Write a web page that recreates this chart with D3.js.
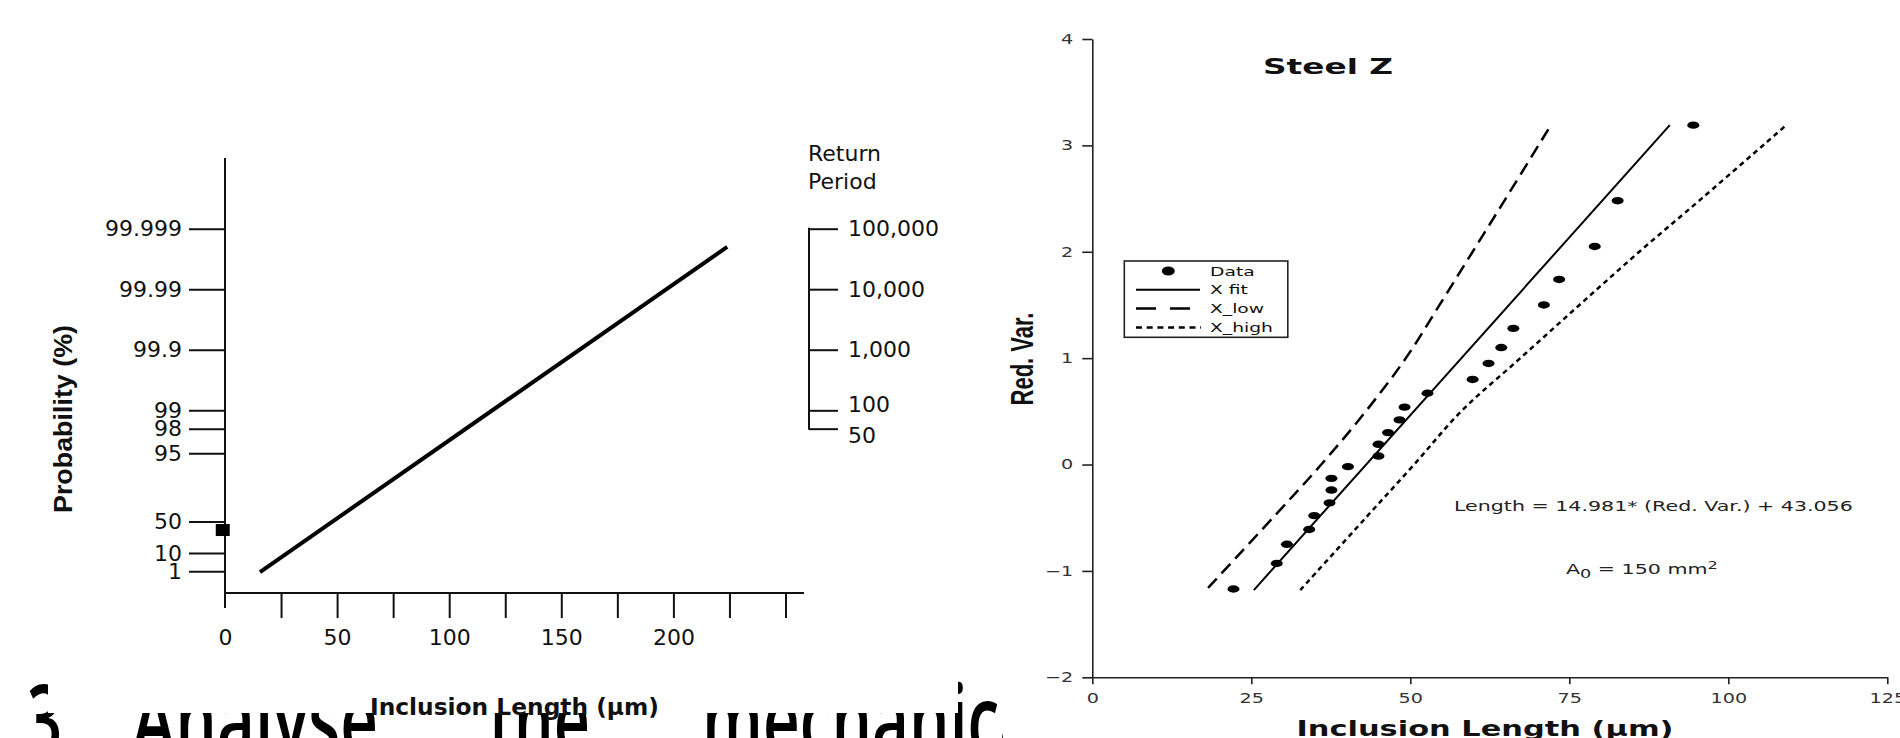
<!DOCTYPE html>
<html>
<head>
<meta charset="utf-8">
<script src="https://cdn.jsdelivr.net/npm/d3@7"></script>
<style>
  html, body { margin: 0; padding: 0; background: #fff; overflow: hidden; }
  svg { display: block; }
</style>
</head>
<body>
<script>
// ---------- left panel: Gumbel probability paper ----------
const probTicks = [99.999, 99.99, 99.9, 99, 98, 95, 50, 10, 1];
const probLabels = ['99.999', '99.99', '99.9', '99', '98', '95', '50', '10', '1'];
const returnPeriods = [100000, 10000, 1000, 100, 50];
const returnLabels = ['100,000', '10,000', '1,000', '100', '50'];
const lengthTicksLeft = [25, 50, 75, 100, 125, 150, 175, 200, 225, 250];
const lengthLabelsLeft = [0, 50, 100, 150, 200];
// [inclusion length (µm), probability (%)]
const extremeLine = [[15.6, 0.88], [224, 99.998]];
const squareMarker = [[-1, 38.4]];

// ---------- right panel: Steel Z ----------
const dataLength = [22.2, 29.0, 30.6, 34.1, 34.9, 37.3, 37.6, 37.6, 40.2, 45.0, 45.0, 46.5,
                    48.3, 49.1, 52.7, 59.8, 62.3, 64.3, 66.2, 71.0, 73.4, 79.0, 82.6, 94.5];
const dataRedVar = [-1.17, -0.93, -0.75, -0.61, -0.48, -0.36, -0.24, -0.13, -0.02, 0.08, 0.19, 0.30,
                    0.42, 0.54, 0.67, 0.80, 0.95, 1.10, 1.28, 1.50, 1.74, 2.05, 2.48, 3.19];
// [length, reduced variate]
const fitLine = [[25.4, -1.18], [90.8, 3.19]];
const lowLine = [[18.2, -1.16], [28.4, -0.5], [36.0, 0], [43.0, 0.5], [49.3, 1.0], [54.6, 1.5],
                 [59.8, 2.0], [65.0, 2.5], [72.2, 3.2]];
const highLine = [[32.7, -1.18], [43.0, -0.5], [50.6, 0], [58.0, 0.5], [67.3, 1.0], [76.6, 1.5],
                  [86.0, 2.0], [95.8, 2.5], [109.3, 3.2]];
const redVarTicks = [-2, -1, 0, 1, 2, 3, 4];
const lengthTicksRight = [0, 25, 50, 75, 100, 125];
const legendLabels = ['Data', 'X fit', 'X_low', 'X_high'];

const width = 1900;
const height = 738;
const gumbel = p => -Math.log(-Math.log(p / 100));

const svg = d3.select('body')
  .append('svg')
  .attr('width', width)
  .attr('height', height)
  .style('font-family', '"DejaVu Sans", Verdana, sans-serif');

// ---------- slide text lying behind both pictures ----------
const slideWords = [['3.', 27, 52], ['Analyse', 132, 246], ['the', 489, 101], ['mechanical', 702, 352]];
svg.append('g')
  .attr('font-family', '"Open Sans", sans-serif')
  .attr('font-size', 98)
  .attr('font-weight', 600)
  .selectAll('text')
  .data(slideWords)
  .enter()
  .append('text')
  .attr('x', d => d[1])
  .attr('y', 755)
  .attr('textLength', d => d[2])
  .attr('lengthAdjust', 'spacingAndGlyphs')
  .text(d => d[0]);

// white picture backgrounds
svg.append('rect').attr('x', 48).attr('y', 0).attr('width', 910).attr('height', 713).attr('fill', '#fff');
svg.append('rect').attr('x', 1003).attr('y', 0).attr('width', 897).attr('height', 738).attr('fill', '#fff');

// ================= left chart =================
const xL = d3.scaleLinear().domain([0, 250]).range([225, 785.5]);
const yL = d3.scaleLinear().domain([gumbel(1), gumbel(99.999)]).range([571.3, 228.7]);
const left = svg.append('g').attr('color', '#111');

left.append('line')
  .attr('x1', xL(0)).attr('x2', xL(0))
  .attr('y1', 158).attr('y2', 608)
  .attr('stroke', '#111').attr('stroke-width', 2);
left.append('line')
  .attr('x1', xL(0)).attr('x2', 804)
  .attr('y1', 593).attr('y2', 593)
  .attr('stroke', '#111').attr('stroke-width', 2);

function styleAxis(g, size) {
  g.select('.domain').remove();
  g.selectAll('line').attr('stroke-width', 2);
  g.attr('font-size', size).attr('font-family', null);
}

left.append('g')
  .attr('transform', `translate(${xL(0)},0)`)
  .call(d3.axisLeft(yL)
    .tickValues(probTicks.map(gumbel))
    .tickFormat((d, i) => probLabels[i])
    .tickSize(36)
    .tickPadding(7))
  .call(g => styleAxis(g, 22));

// return period axis
const rpValue = t => gumbel(100 * (1 - 1 / t));
left.append('line')
  .attr('x1', 809).attr('x2', 809)
  .attr('y1', yL(rpValue(returnPeriods[0])) - 1)
  .attr('y2', yL(rpValue(returnPeriods[returnPeriods.length - 1])) + 1)
  .attr('stroke', '#111').attr('stroke-width', 2);
const rpShift = [0, 0, 0, -6, 7];
left.append('g')
  .attr('transform', 'translate(809,0)')
  .call(d3.axisRight(yL)
    .tickValues(returnPeriods.map(rpValue))
    .tickFormat((d, i) => returnLabels[i])
    .tickSize(29)
    .tickPadding(10))
  .call(g => styleAxis(g, 22))
  .call(g => g.selectAll('text').attr('y', (d, i) => rpShift[i]));

left.append('text')
  .attr('x', 808).attr('y', 160.5)
  .attr('font-size', 22).attr('fill', '#111')
  .text('Return');
left.append('text')
  .attr('x', 808).attr('y', 189)
  .attr('font-size', 22).attr('fill', '#111')
  .text('Period');

// x axis ticks and labels
left.append('g')
  .attr('transform', 'translate(0,593)')
  .call(d3.axisBottom(xL).tickValues(lengthTicksLeft).tickSize(25).tickFormat(''))
  .call(g => styleAxis(g, 22));
left.append('g')
  .attr('transform', 'translate(0,593)')
  .call(d3.axisBottom(xL).tickValues(lengthLabelsLeft).tickSize(0).tickPadding(36))
  .call(g => styleAxis(g, 22));

left.append('text')
  .attr('x', 514.5).attr('y', 715)
  .attr('text-anchor', 'middle')
  .attr('font-size', 23).attr('font-weight', 'bold').attr('fill', '#111')
  .attr('textLength', 289).attr('lengthAdjust', 'spacingAndGlyphs')
  .text('Inclusion Length (µm)');

left.append('text')
  .attr('transform', 'translate(72,419) rotate(-90)')
  .attr('text-anchor', 'middle')
  .attr('font-family', '"Liberation Sans", Arial, sans-serif')
  .attr('font-size', 26).attr('font-weight', 'bold').attr('fill', '#111')
  .attr('textLength', 188).attr('lengthAdjust', 'spacingAndGlyphs')
  .text('Probability (%)');

const lineL = d3.line().x(d => xL(d[0])).y(d => yL(gumbel(d[1])));
left.append('path')
  .datum(extremeLine)
  .attr('d', lineL)
  .attr('fill', 'none')
  .attr('stroke', '#000')
  .attr('stroke-width', 4);

left.selectAll('rect.marker')
  .data(squareMarker)
  .enter()
  .append('rect')
  .attr('class', 'marker')
  .attr('x', d => xL(d[0]) - 7)
  .attr('y', d => yL(gumbel(d[1])) - 6)
  .attr('width', 14)
  .attr('height', 12)
  .attr('fill', '#000');

// ================= right chart =================
// the picture is stretched sideways, so its text is too
const SX = 1.42;
const xR = d3.scaleLinear().domain([0, 125]).range([1092.3, 1887.3]);
const yR = d3.scaleLinear().domain([-2, 4]).range([677.3, 39]);
const right = svg.append('g').attr('color', '#222');

function stretchedText(g, x, y, str, size, sx, opts = {}) {
  return g.append('text')
    .attr('transform', `translate(${x},${y}) scale(${sx},1)`)
    .attr('text-anchor', opts.anchor || 'start')
    .attr('font-size', size)
    .attr('font-weight', opts.bold ? 'bold' : null)
    .attr('fill', opts.fill || '#111')
    .text(str);
}

right.append('g')
  .attr('transform', `translate(${xR(0)},0)`)
  .call(d3.axisLeft(yR).tickValues(redVarTicks).tickFormat(d3.format('d')).tickSize(10).tickSizeOuter(0))
  .call(g => {
    g.attr('font-size', 13.5).attr('font-family', null);
    g.selectAll('path, line').attr('stroke-width', 1.6);
    g.selectAll('text')
      .attr('x', -19 / SX)
      .attr('transform', `scale(${SX},1)`)
      .attr('fill', '#333');
  });

right.append('g')
  .attr('transform', `translate(0,${yR(-2)})`)
  .call(d3.axisBottom(xR).tickValues(lengthTicksRight).tickFormat(d3.format('d'))
    .tickSize(7).tickSizeOuter(0).tickPadding(9.5))
  .call(g => {
    g.attr('font-size', 13.5).attr('font-family', null);
    g.selectAll('path, line').attr('stroke-width', 1.6);
    g.selectAll('text')
      .attr('transform', `scale(${SX},1)`)
      .attr('fill', '#333');
  });

// fitted line and bounds
const lineR = d3.line().x(d => xR(d[0])).y(d => yR(d[1]));
const curveR = d3.line().x(d => xR(d[0])).y(d => yR(d[1])).curve(d3.curveCatmullRom.alpha(0.5));
right.append('path').datum(lowLine).attr('d', curveR)
  .attr('fill', 'none').attr('stroke', '#000').attr('stroke-width', 2.5)
  .attr('stroke-dasharray', '13,7');
right.append('path').datum(fitLine).attr('d', lineR)
  .attr('fill', 'none').attr('stroke', '#000').attr('stroke-width', 2);
right.append('path').datum(highLine).attr('d', curveR)
  .attr('fill', 'none').attr('stroke', '#000').attr('stroke-width', 2.5)
  .attr('stroke-dasharray', '5,4');

right.selectAll('ellipse.dot')
  .data(d3.zip(dataLength, dataRedVar))
  .enter()
  .append('ellipse')
  .attr('class', 'dot')
  .attr('cx', d => xR(d[0]))
  .attr('cy', d => yR(d[1]))
  .attr('rx', 6)
  .attr('ry', 3.7)
  .attr('fill', '#000');

// title and notes
stretchedText(right, 1263, 74, 'Steel Z', 22, 1.49, { bold: true });
stretchedText(right, 1454, 510.7, 'Length = 14.981* (Red. Var.) + 43.056', 14, 1.47, { fill: '#222' });
const area = stretchedText(right, 1566, 574, 'A', 14, 1.47, { fill: '#222' });
area.append('tspan').attr('font-size', 12).attr('dy', 4).text('0');
area.append('tspan').attr('dy', -4).text(' = 150 mm');
area.append('tspan').attr('font-size', 11).attr('dy', -5).text('2');

// legend
const legend = right.append('g');
legend.append('rect')
  .attr('x', 1124.3).attr('y', 261)
  .attr('width', 163.5).attr('height', 76.3)
  .attr('fill', '#fff').attr('stroke', '#222').attr('stroke-width', 1.6);
const legendDash = [null, null, '20,14', '6,4.7'];
const legendLineEnd = [0, 1200, 1193, 1201];
legendLabels.forEach((label, i) => {
  const cy = 271 + i * 18.8;
  if (i === 0) {
    legend.append('ellipse').attr('cx', 1168.3).attr('cy', cy)
      .attr('rx', 6.5).attr('ry', 4.5).attr('fill', '#000');
  } else {
    legend.append('line')
      .attr('x1', 1136).attr('x2', legendLineEnd[i])
      .attr('y1', cy).attr('y2', cy)
      .attr('stroke', '#000').attr('stroke-width', i === 1 ? 2 : 2.5)
      .attr('stroke-dasharray', legendDash[i]);
  }
  stretchedText(legend, 1210, cy + 4.6, label, 13, 1.44);
});

// axis titles
stretchedText(right, 1485, 735.5, 'Inclusion Length (µm)', 21, 1.45, { bold: true, anchor: 'middle' });
right.append('text')
  .attr('transform', 'translate(1033,359) scale(1.45,1) rotate(-90)')
  .attr('text-anchor', 'middle')
  .attr('font-family', '"Liberation Sans", Arial, sans-serif')
  .attr('font-size', 22).attr('font-weight', 'bold').attr('fill', '#111')
  .text('Red. Var.');
</script>
</body>
</html>
